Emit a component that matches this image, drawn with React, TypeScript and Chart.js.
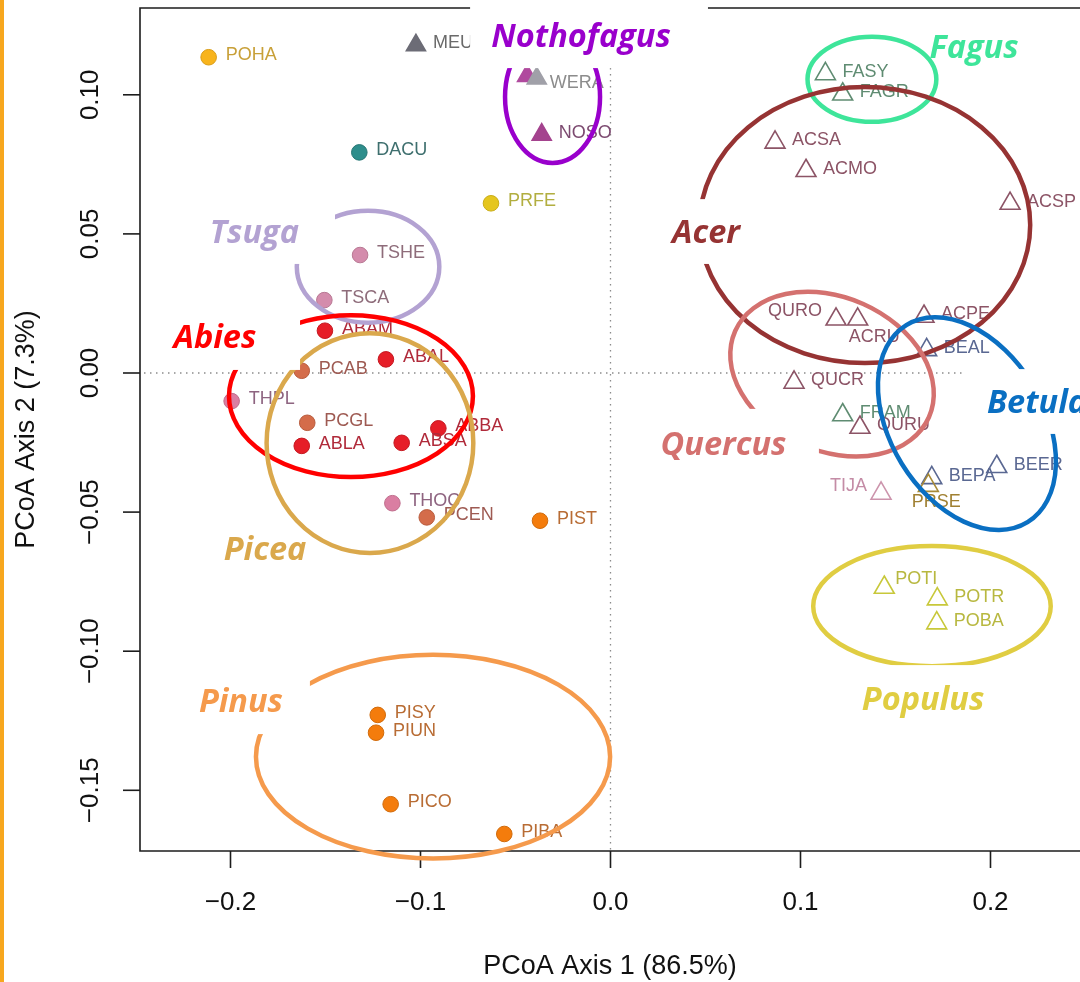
import { useEffect, useRef } from 'react';
import { Chart, registerables } from 'chart.js';

Chart.register(...registerables);

// Axis ranges and ticks (PCoA scores)
const X_MIN = -0.24763;
const X_MAX = 0.24711;
const Y_MIN = -0.17182;
const Y_MAX = 0.1312;
const xTicks = [-0.2, -0.1, 0, 0.1, 0.2];
const xTickLabels = ['\u22120.2', '\u22120.1', '0.0', '0.1', '0.2'];
const yTicks = [-0.15, -0.1, -0.05, 0, 0.05, 0.1];
const yTickLabels = ['\u22120.15', '\u22120.10', '\u22120.05', '0.00', '0.05', '0.10'];

// Species shown as filled circles
const circleCodes = [
  'POHA', 'DACU', 'PRFE', 'TSHE', 'TSCA', 'ABAM', 'ABAL', 'PCAB', 'THPL', 'PCGL',
  'ABBA', 'ABLA', 'ABSA', 'THOC', 'PCEN', 'PIST', 'PISY', 'PIUN', 'PICO', 'PIBA',
];
const circleX = [
  -0.2115, -0.1322, -0.0629, -0.1318, -0.1506, -0.1503, -0.1182, -0.1625, -0.1994, -0.1596,
  -0.0906, -0.1625, -0.1099, -0.1148, -0.0967, -0.0371, -0.1225, -0.1234, -0.1157, -0.0559,
];
const circleY = [
  0.1135, 0.0793, 0.0610, 0.0424, 0.0262, 0.0152, 0.0049, 0.0008, -0.0101, -0.0179,
  -0.0199, -0.0262, -0.0251, -0.0468, -0.0519, -0.0531, -0.1229, -0.1293, -0.1550, -0.1657,
];

// Species shown as triangles ('' = unlabelled point)
const triangleCodes = [
  'MEU', '', 'WERA', 'NOSO', 'FASY', 'FAGR', 'ACSA', 'ACMO', 'ACSP', 'QURO', 'ACRU', 'ACPE',
  'BEAL', 'QUCR', 'FRAM', 'QURU', 'TIJA', 'BEPA', 'PRSE', 'BEER', 'POTI', 'POTR', 'POBA',
];
const triangleX = [
  -0.1024, -0.0439, -0.0388, -0.0362, 0.1131, 0.1222, 0.0866, 0.1029, 0.2103, 0.1187, 0.1301, 0.1650,
  0.1664, 0.0966, 0.1222, 0.1313, 0.1424, 0.1691, 0.1673, 0.2033, 0.1441, 0.1720, 0.1717,
];
const triangleY = [
  0.1178, 0.1068, 0.1059, 0.0857, 0.1075, 0.1002, 0.0829, 0.0727, 0.0609, 0.0193, 0.0193, 0.0203,
  0.0083, -0.0034, -0.0151, -0.0196, -0.0433, -0.0377, -0.0405, -0.0337, -0.0771, -0.0813, -0.0899,
];
const filledTriangles = ['MEU', '', 'WERA', 'NOSO'];

// Genus annotations: name, label centre (x, baseline y), ellipse
const genusNames = ['Nothofagus', 'Fagus', 'Tsuga', 'Acer', 'Abies', 'Picea', 'Pinus', 'Quercus', 'Betula', 'Populus'];
const genusLabelX = [-0.0155, 0.1913, -0.1874, 0.0503, -0.2082, -0.1818, -0.1945, 0.0595, 0.2245, 0.1645];
const genusLabelY = [0.1172, 0.1132, 0.0467, 0.0467, 0.0090, -0.0672, -0.1219, -0.0295, -0.0144, -0.1211];
const genusColors = ['#9900cc', '#3ee59a', '#b3a2d2', '#963333', '#ff0000', '#daa84c', '#f59a4c', '#d4716f', '#0a6fc2', '#e0cd42'];
// ellipse centre, semi-axes (x units, y units) and tilt in degrees
const ellipseCx = [-0.0305, 0.1376, -0.1276, 0.1339, -0.1366, -0.1266, -0.0934, 0.1166, 0.1876, 0.1692];
const ellipseCy = [0.0992, 0.1056, 0.0382, 0.0532, -0.0083, -0.0252, -0.1379, -0.0004, -0.0182, -0.0838];
const ellipseRx = [0.0250, 0.0339, 0.0375, 0.0870, 0.0642, 0.0544, 0.0932, 0.0558, 0.0609, 0.0625];
const ellipseRy = [0.0237, 0.0153, 0.0201, 0.0496, 0.0291, 0.0395, 0.0366, 0.0276, 0.0275, 0.0216];
const ellipseTilt = [0, 0, 0, 0, 0, 0, 0, 24, 58.4, 0];
// white backing boxes of the genus labels [x1, y1, x2, y2]
const labelBoxes: number[][] = [
  [-0.0739, 0.14, 0.0513, 0.1096],
  [-0.2197, 0.0622, -0.1450, 0.0392],
  [0.0234, 0.0625, 0.0734, 0.0392],
  [-0.2345, 0.0244, -0.1634, 0.0011],
  [-0.2213, -0.1060, -0.1582, -0.1298],
  [0.0208, -0.0129, 0.1097, -0.0377],
  [0.1866, 0.0014, 0.26, -0.0219],
  [0.1261, -0.1050, 0.2050, -0.1265],
];

// Colours per species: [fill, outline, text]
const speciesColors: Record<string, string[]> = {
  POHA: ['#f8b41c', '#d99c16', '#c8a038'],
  DACU: ['#2e8e8c', '#277674', '#3e6f6e'],
  PRFE: ['#e5c61e', '#c9ad18', '#b2ae40'],
  TSHE: ['#d48cac', '#b87893', '#8e6c7a'],
  TSCA: ['#d48cac', '#b87893', '#8e6c7a'],
  THPL: ['#da7ea2', '#bf6d8c', '#8e6480'],
  THOC: ['#da7ea2', '#bf6d8c', '#8e6480'],
  ABAM: ['#e61e28', '#c41820', '#b02a3a'],
  ABAL: ['#e61e28', '#c41820', '#b02a3a'],
  ABBA: ['#e61e28', '#c41820', '#b02a3a'],
  ABLA: ['#e61e28', '#c41820', '#b02a3a'],
  ABSA: ['#e61e28', '#c41820', '#b02a3a'],
  PCAB: ['#d46c4a', '#b85c3e', '#9e5a52'],
  PCGL: ['#d46c4a', '#b85c3e', '#9e5a52'],
  PCEN: ['#d46c4a', '#b85c3e', '#9e5a52'],
  PIST: ['#f47c0c', '#d06a0a', '#b86c34'],
  PISY: ['#f47c0c', '#d06a0a', '#b86c34'],
  PIUN: ['#f47c0c', '#d06a0a', '#b86c34'],
  PICO: ['#f47c0c', '#d06a0a', '#b86c34'],
  PIBA: ['#f47c0c', '#d06a0a', '#b86c34'],
  MEU: ['#6c6c76', '#6c6c76', '#6a6a6a'],
  '': ['#b04a9e', '#b04a9e', '#7c4a70'],
  WERA: ['#a0a0a8', '#a0a0a8', '#8c8c8c'],
  NOSO: ['#a4438e', '#a4438e', '#7c4a70'],
  FASY: ['', '#5f8c72', '#5f8c72'],
  FAGR: ['', '#5f8c72', '#5f8c72'],
  FRAM: ['', '#5f8c72', '#5f8c72'],
  ACSA: ['', '#8c5466', '#8c5466'],
  ACMO: ['', '#8c5466', '#8c5466'],
  ACSP: ['', '#8c5466', '#8c5466'],
  ACPE: ['', '#8c5466', '#8c5466'],
  ACRU: ['', '#8c5466', '#8c5466'],
  QURO: ['', '#8c5466', '#8c5466'],
  QUCR: ['', '#8c5466', '#8c5466'],
  QURU: ['', '#8c5466', '#8c5466'],
  BEAL: ['', '#5a6892', '#5a6892'],
  BEPA: ['', '#5a6892', '#5a6892'],
  BEER: ['', '#5a6892', '#5a6892'],
  TIJA: ['', '#cc94ac', '#c48ca6'],
  PRSE: ['', '#a88a36', '#a08032'],
  POTI: ['', '#c8c83a', '#b8b840'],
  POTR: ['', '#c8c83a', '#b8b840'],
  POBA: ['', '#c8c83a', '#b8b840'],
};

// Label placement relative to the marker (pixels)
const defaultLabel = { dx: 17, dy: -2, align: 'left' as CanvasTextAlign };
const labelPlacement: Record<string, { dx: number; dy: number; align: CanvasTextAlign }> = {
  QURO: { dx: -14, dy: -8, align: 'right' },
  ACRU: { dx: -9, dy: 17.5, align: 'left' },
  TIJA: { dx: -14, dy: -7, align: 'right' },
  PRSE: { dx: 8, dy: 16, align: 'center' },
  POTI: { dx: 11, dy: -8.5, align: 'left' },
  WERA: { dx: 13, dy: 4.5, align: 'left' },
};

const SANS = '"Liberation Sans", Arial, Helvetica, sans-serif';
const GENUS_FONT = 'italic bold 32.5px "Open Sans", Lato, sans-serif';

const decorPlugin = {
  id: 'pcoaDecor',
  beforeDatasetsDraw(chart: any) {
    const { ctx, chartArea: a, scales } = chart;
    const sx = scales.x;
    const sy = scales.y;
    ctx.save();
    // dotted reference lines through the origin
    const x0 = sx.getPixelForValue(0);
    const y0 = sy.getPixelForValue(0);
    ctx.strokeStyle = '#8c8c8c';
    ctx.lineWidth = 1.3;
    ctx.setLineDash([1.5, 4.5]);
    ctx.beginPath();
    ctx.moveTo(a.left + 4, y0);
    ctx.lineTo(a.right, y0);
    ctx.moveTo(x0, a.top);
    ctx.lineTo(x0, a.bottom);
    ctx.stroke();
    ctx.setLineDash([]);

    // plot frame
    ctx.strokeStyle = '#1c1c1c';
    ctx.lineWidth = 1.6;
    ctx.beginPath();
    ctx.moveTo(a.right + 2, a.top);
    ctx.lineTo(a.left, a.top);
    ctx.lineTo(a.left, a.bottom);
    ctx.lineTo(a.right + 2, a.bottom);
    ctx.stroke();

    // x axis ticks and labels
    ctx.fillStyle = '#111';
    ctx.font = `26px ${SANS}`;
    ctx.textAlign = 'center';
    ctx.textBaseline = 'middle';
    xTicks.forEach((v, i) => {
      const px = sx.getPixelForValue(v);
      ctx.beginPath();
      ctx.moveTo(px, a.bottom);
      ctx.lineTo(px, a.bottom + 17);
      ctx.stroke();
      ctx.fillText(xTickLabels[i], px, a.bottom + 52);
    });
    // y axis ticks and labels (parallel to the axis)
    yTicks.forEach((v, i) => {
      const py = sy.getPixelForValue(v);
      ctx.beginPath();
      ctx.moveTo(a.left, py);
      ctx.lineTo(a.left - 17, py);
      ctx.stroke();
      ctx.save();
      ctx.translate(a.left - 49, py);
      ctx.rotate(-Math.PI / 2);
      ctx.fillText(yTickLabels[i], 0, 0);
      ctx.restore();
    });
    // axis titles
    ctx.font = `27px ${SANS}`;
    ctx.fillText('PCoA Axis 1 (86.5%)', (a.left + a.right) / 2, a.bottom + 116);
    ctx.save();
    ctx.translate(27, (a.top + a.bottom) / 2);
    ctx.rotate(-Math.PI / 2);
    ctx.fillText('PCoA Axis 2 (7.3%)', 0, 0);
    ctx.restore();
    ctx.restore();
  },
  afterDatasetsDraw(chart: any) {
    const { ctx, scales } = chart;
    const sx = scales.x;
    const sy = scales.y;
    ctx.save();

    // species codes next to the markers
    ctx.font = `18px ${SANS}`;
    ctx.textBaseline = 'middle';
    [circleCodes, triangleCodes].forEach((codes, di) => {
      const meta = chart.getDatasetMeta(di);
      codes.forEach((code, j) => {
        if (!code) return;
        const el = meta.data[j];
        const p = labelPlacement[code] || defaultLabel;
        ctx.fillStyle = speciesColors[code][2];
        ctx.textAlign = p.align;
        ctx.fillText(code, el.x + p.dx, el.y + p.dy);
      });
    });

    // genus ellipses
    const pxPerX = Math.abs(sx.getPixelForValue(1) - sx.getPixelForValue(0));
    const pxPerY = Math.abs(sy.getPixelForValue(1) - sy.getPixelForValue(0));
    ctx.lineWidth = 4.5;
    genusNames.forEach((_, i) => {
      ctx.strokeStyle = genusColors[i];
      ctx.beginPath();
      ctx.ellipse(
        sx.getPixelForValue(ellipseCx[i]),
        sy.getPixelForValue(ellipseCy[i]),
        ellipseRx[i] * pxPerX,
        ellipseRy[i] * pxPerY,
        (ellipseTilt[i] * Math.PI) / 180,
        0,
        Math.PI * 2,
      );
      ctx.stroke();
    });

    // white backing boxes of the genus labels
    ctx.fillStyle = '#ffffff';
    labelBoxes.forEach(([x1, y1, x2, y2]) => {
      const l = sx.getPixelForValue(x1);
      const r = sx.getPixelForValue(x2);
      const t = sy.getPixelForValue(y1);
      const b = sy.getPixelForValue(y2);
      ctx.fillRect(l, t, r - l, b - t);
    });

    // genus names
    ctx.font = GENUS_FONT;
    ctx.textAlign = 'center';
    ctx.textBaseline = 'alphabetic';
    genusNames.forEach((name, i) => {
      ctx.fillStyle = genusColors[i];
      ctx.fillText(name, sx.getPixelForValue(genusLabelX[i]), sy.getPixelForValue(genusLabelY[i]));
    });

    // page accent bar along the left edge
    ctx.fillStyle = '#f7a71e';
    ctx.fillRect(0, 0, 4, chart.height);
    ctx.restore();
  },
};

export default function App() {
  const canvasRef = useRef<HTMLCanvasElement>(null);

  useEffect(() => {
    const canvas = canvasRef.current;
    if (!canvas) return;
    const circlePts = circleCodes.map((_, i) => ({ x: circleX[i], y: circleY[i] }));
    const trianglePts = triangleCodes.map((_, i) => ({ x: triangleX[i], y: triangleY[i] }));
    const chart = new Chart(canvas, {
      type: 'scatter',
      data: {
        datasets: [
          {
            label: 'circles',
            data: circlePts,
            pointStyle: 'circle',
            pointRadius: 7.8,
            pointBorderWidth: 1,
            pointBackgroundColor: circleCodes.map((c) => speciesColors[c][0]),
            pointBorderColor: circleCodes.map((c) => speciesColors[c][1]),
          },
          {
            label: 'triangles',
            data: trianglePts,
            pointStyle: 'triangle',
            pointRadius: triangleCodes.map((c) => (filledTriangles.includes(c) ? 11 : 11.5)),
            pointBorderWidth: 1.6,
            pointBackgroundColor: triangleCodes.map((c) =>
              filledTriangles.includes(c) ? speciesColors[c][0] : 'rgba(255,255,255,0)',
            ),
            pointBorderColor: triangleCodes.map((c) => speciesColors[c][1]),
          },
        ],
      },
      options: {
        animation: false,
        responsive: false,
        events: [],
        layout: { autoPadding: false, padding: { left: 140, top: 8, right: 0, bottom: 131 } },
        scales: {
          x: { type: 'linear', min: X_MIN, max: X_MAX, display: false },
          y: { type: 'linear', min: Y_MIN, max: Y_MAX, display: false },
        },
        plugins: { legend: { display: false }, tooltip: { enabled: false } },
      },
      plugins: [decorPlugin],
    });
    return () => chart.destroy();
  }, []);

  return (
    <div style={{ position: 'absolute', left: 0, top: 0, width: 1080, height: 982, background: '#ffffff' }}>
      <canvas ref={canvasRef} width={1080} height={982} style={{ display: 'block', width: 1080, height: 982 }} />
    </div>
  );
}
